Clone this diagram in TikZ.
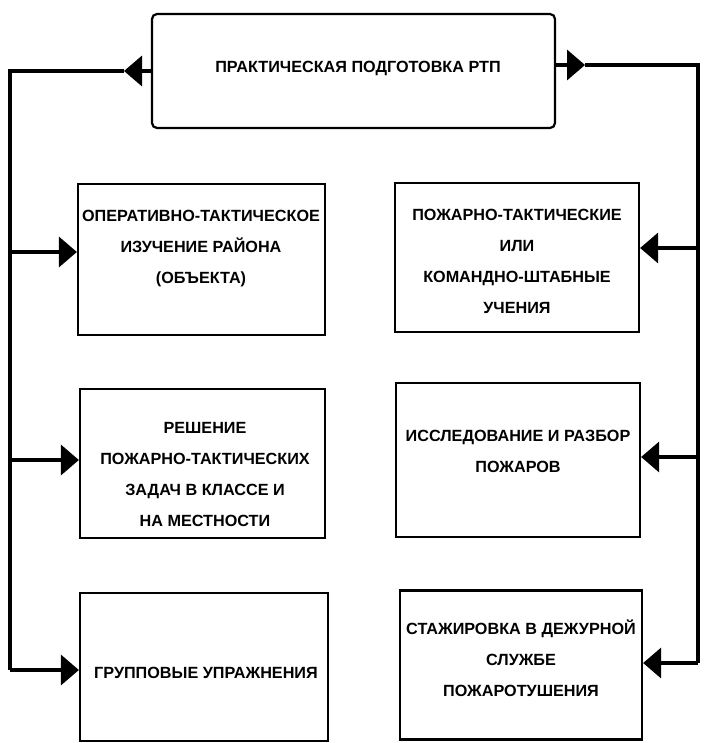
\documentclass[tikz,border=0pt]{standalone}
\usepackage{fontspec}
\setmainfont{Liberation Sans}
\usetikzlibrary{arrows.meta}
\begin{document}
\begin{tikzpicture}[x=1pt,y=-1pt,
  box/.style={draw, line width=2.2pt, inner sep=0pt},
  txt/.style={align=center, inner sep=0pt, font=\bfseries\fontsize{16.2}{31}\selectfont},
  conn/.style={line width=3.5pt, line join=miter},
  arr/.style={conn, -{Triangle[length=18pt,width=30pt]}}]
\useasboundingbox (0,0) rectangle (704,743);
% boxes
\node[box, rounded corners=5pt, minimum width=403pt, minimum height=114pt] (top) at (353.5,71) {};
\node[box, minimum width=247pt, minimum height=151pt] (b1) at (201.5,259.5) {};
\node[box, minimum width=245pt, minimum height=149pt] (b2) at (202.5,463.5) {};
\node[box, minimum width=248pt, minimum height=148pt] (b3) at (204,667) {};
\node[box, minimum width=244pt, minimum height=149pt] (r1) at (517,257.5) {};
\node[box, minimum width=244pt, minimum height=154pt] (r2) at (518,460) {};
\node[box, minimum width=242pt, minimum height=149pt] (r3) at (521,665) {};
% texts
\node[txt] (ttop) at (358,68) {ПРАКТИЧЕСКАЯ ПОДГОТОВКА РТП};
\node[txt] (tb1) at (201,249) {ОПЕРАТИВНО-ТАКТИЧЕСКОЕ\\ИЗУЧЕНИЕ РАЙОНА\\(ОБЪЕКТА)};
\node[txt] (tb2) at (205,475) {РЕШЕНИЕ\\ПОЖАРНО-ТАКТИЧЕСКИХ\\ЗАДАЧ В КЛАССЕ И\\НА МЕСТНОСТИ};
\node[txt] (tb3) at (206,673) {ГРУППОВЫЕ УПРАЖНЕНИЯ};
\node[txt] (tr1) at (517,261) {ПОЖАРНО-ТАКТИЧЕСКИЕ\\ИЛИ\\КОМАНДНО-ШТАБНЫЕ\\УЧЕНИЯ};
\node[txt] (tr2) at (518,451) {ИССЛЕДОВАНИЕ И РАЗБОР\\ПОЖАРОВ};
\node[txt] (tr3) at (521,658) {СТАЖИРОВКА В ДЕЖУРНОЙ\\СЛУЖБЕ\\ПОЖАРОТУШЕНИЯ};
% connector points
\coordinate (tl) at (124,71);
\coordinate (lc) at (10,71);
\coordinate (L1) at (10,252);
\coordinate (L2) at (10,460);
\coordinate (L3) at (10,670);
\coordinate (trr) at (585,65);
\coordinate (rc) at (698,65);
\coordinate (R1) at (698,248);
\coordinate (R2) at (698,457);
\coordinate (R3) at (698,663);
% connectors
\draw[arr] (top.west |- tl) -- (tl);
\draw[conn] (tl) -- (lc) -- (L3);
\draw[arr] (L1) -- (L1 -| b1.west);
\draw[arr] (L2) -- (L2 -| b2.west);
\draw[arr] (L3) -- (L3 -| b3.west);
\draw[arr] (top.east |- trr) -- (trr);
\draw[conn] (trr) -- (rc) -- (R3);
\draw[arr] (R1) -- (R1 -| r1.east);
\draw[arr] (R2) -- (R2 -| r2.east);
\draw[arr] (R3) -- (R3 -| r3.east);
\end{tikzpicture}
\end{document}
